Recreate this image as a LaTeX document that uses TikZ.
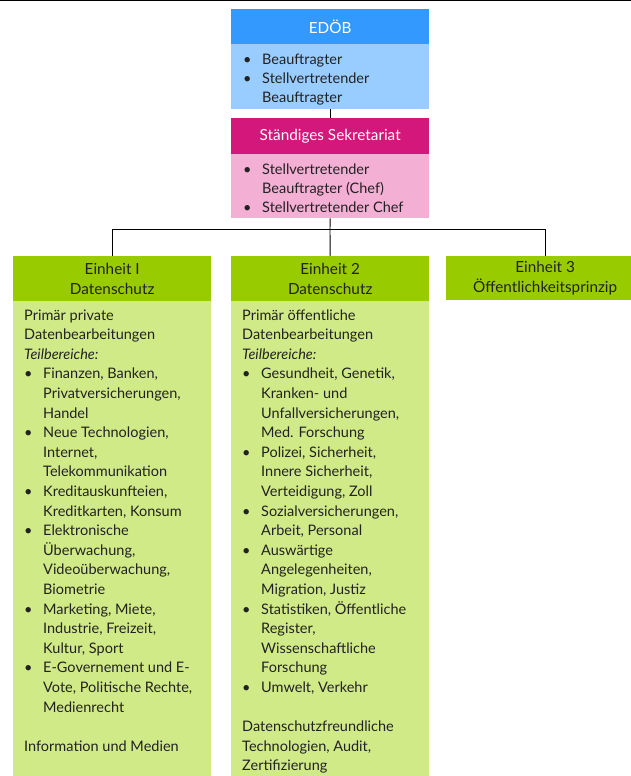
\documentclass[tikz,border=0pt]{standalone}
\usepackage{fontspec}
\setmainfont{Lato}
\definecolor{edobHead}{HTML}{3399FF}
\definecolor{edobBody}{HTML}{99CCFF}
\definecolor{sekHead}{HTML}{D4177A}
\definecolor{sekBody}{HTML}{F4AFD5}
\definecolor{grnHead}{HTML}{99CC00}
\definecolor{grnBody}{HTML}{D1EA88}
\definecolor{txtDark}{HTML}{222222}
\newcommand\blt{\makebox[19pt][l]{\textbullet}}
\newcommand\cnt{\hspace*{19pt}}
\tikzset{
  box/.style={draw=none, rectangle, inner sep=0pt, anchor=north west, minimum width=198pt},
  hdrtxt/.style={align=center, font=\fontsize{15.3}{19.6}\selectfont},
  bodytxt/.style={anchor=base west, inner sep=0pt, text=txtDark},
  conn/.style={draw=black, line width=0.9pt}
}
\begin{document}
\begin{tikzpicture}[x=1pt,y=-1pt]
\useasboundingbox (0,0) rectangle (631,776);
\clip (0,0) rectangle (631,776);
\fill[white] (0,0) rectangle (631,776);
\draw[line width=1.3pt] (0,0.6) -- (631,0.6);
% EDOB
\node[box, fill=edobHead, minimum height=35pt, text=white, hdrtxt] (edobhead) at (231,9) {EDÖB};
\node[box, fill=edobBody, minimum height=65pt] (edobbody) at (231,44) {};
\node[bodytxt] (edobtext) at (243,64.5) {\parbox[t]{180pt}{\fontsize{14.5}{19}\selectfont
\blt Beauftragter\\
\blt Stellvertretender\\
\cnt Beauftragter}};
% Sekretariat
\node[box, fill=sekHead, minimum height=36pt, text=white, hdrtxt] (sekhead) at (231,118) {Ständiges Sekretariat};
\node[box, fill=sekBody, minimum height=64pt] (sekbody) at (231,154) {};
\node[bodytxt] (sektext) at (243,174) {\parbox[t]{180pt}{\fontsize{14.5}{19.3}\selectfont
\blt Stellvertretender\\
\cnt Beauftragter (Chef)\\
\blt Stellvertretender Chef}};
% Units
\node[box, fill=grnHead, minimum height=45pt, text=txtDark, hdrtxt] (u1head) at (13,256) {Einheit I\\Datenschutz};
\node[box, fill=grnBody, minimum height=475pt] (u1body) at (13,301) {};
\node[box, fill=grnHead, minimum height=45pt, text=txtDark, hdrtxt] (u2head) at (231,256) {Einheit 2\\Datenschutz};
\node[box, fill=grnBody, minimum height=475pt] (u2body) at (231,301) {};
\node[box, fill=grnHead, minimum height=44pt, text=txtDark, hdrtxt] (u3head) at (446,256) {Einheit 3\\Öffentlichkeitsprinzip};
\node[bodytxt] (u1text) at (24,320) {\parbox[t]{186pt}{\fontsize{14.5}{19.6}\selectfont
Primär private\\
Datenbearbeitungen\\
\textit{Teilbereiche:}\\
\blt Finanzen, Banken,\\
\cnt Privatversicherungen,\\
\cnt Handel\\
\blt Neue Technologien,\\
\cnt Internet,\\
\cnt Telekommunikation\\
\blt Kreditauskunfteien,\\
\cnt Kreditkarten, Konsum\\
\blt Elektronische\\
\cnt Überwachung,\\
\cnt Videoüberwachung,\\
\cnt Biometrie\\
\blt Marketing, Miete,\\
\cnt Industrie, Freizeit,\\
\cnt Kultur, Sport\\
\blt E-Governement und E-\\
\cnt Vote, Politische Rechte,\\
\cnt Medienrecht\\
\mbox{}\\
Information und Medien}};
\node[bodytxt] (u2text) at (242,320) {\parbox[t]{186pt}{\fontsize{14.5}{19.6}\selectfont
Primär öffentliche\\
Datenbearbeitungen\\
\textit{Teilbereiche:}\\
\blt Gesundheit, Genetik,\\
\cnt Kranken- und\\
\cnt Unfallversicherungen,\\
\cnt Med. Forschung\\
\blt Polizei, Sicherheit,\\
\cnt Innere Sicherheit,\\
\cnt Verteidigung, Zoll\\
\blt Sozialversicherungen,\\
\cnt Arbeit, Personal\\
\blt Auswärtige\\
\cnt Angelegenheiten,\\
\cnt Migration, Justiz\\
\blt Statistiken, Öffentliche\\
\cnt Register,\\
\cnt Wissenschaftliche\\
\cnt Forschung\\
\blt Umwelt, Verkehr\\
\mbox{}\\
Datenschutzfreundliche\\
Technologien, Audit,\\
Zertifizierung}};
% connectors
\coordinate (hub) at (330,229);
\coordinate (u3top) at (545,256);
\draw[conn] (edobbody.south) -- (sekhead.north);
\draw[conn] (sekbody.south) -- (hub);
\draw[conn] (hub) -- (u2head.north);
\draw[conn] (u1head.north) |- (hub);
\draw[conn] (hub) -| (u3top);
\end{tikzpicture}
\end{document}
